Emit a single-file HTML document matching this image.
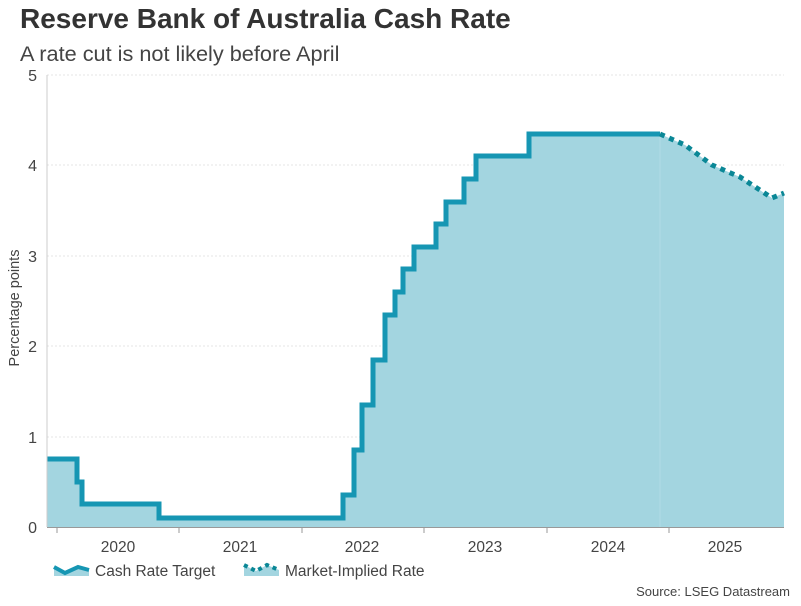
<!DOCTYPE html>
<html><head><meta charset="utf-8"><style>
body{margin:0;background:#fff;width:801px;height:601px;overflow:hidden;font-family:"Liberation Sans",sans-serif;}
</style></head><body>
<svg width="801" height="601" xmlns="http://www.w3.org/2000/svg" font-family="Liberation Sans, sans-serif">
<text x="20" y="28" font-size="28" font-weight="bold" fill="#333">Reserve Bank of Australia Cash Rate</text>
<text x="20" y="61" font-size="21.7" fill="#444">A rate cut is not likely before April</text>
<g stroke="#e6e6e6" stroke-dasharray="2,2" stroke-width="1">
<line x1="47" x2="784" y1="75" y2="75"/><line x1="47" x2="784" y1="165" y2="165"/><line x1="47" x2="784" y1="256" y2="256"/><line x1="47" x2="784" y1="346" y2="346"/><line x1="47" x2="784" y1="437" y2="437"/>
</g>
<g font-size="16" fill="#444" text-anchor="end">
<text x="37" y="81">5</text><text x="37" y="171">4</text><text x="37" y="262">3</text><text x="37" y="352">2</text><text x="37" y="443">1</text><text x="37" y="533">0</text>
</g>
<text transform="translate(19,308) rotate(-90)" font-size="14.5" fill="#444" text-anchor="middle">Percentage points</text>
<path d="M47,459 H77 V482 H82 V504 H159 V518 H343 V495 H354 V450 H362 V405 H373 V360 H385 V315 H395 V292 H403 V269 H414 V247 H436 V224 H446 V202 H464 V179 H476 V156 H529 V134 H660 L685,145 L712,165 L740,177 L772,198 L784,193 V527 H47Z" fill="#a3d5e0"/>
<line x1="660" x2="660" y1="134" y2="527" stroke="#b2dce6" stroke-width="1"/>
<path d="M47,459 H77 V482 H82 V504 H159 V518 H343 V495 H354 V450 H362 V405 H373 V360 H385 V315 H395 V292 H403 V269 H414 V247 H436 V224 H446 V202 H464 V179 H476 V156 H529 V134 H660" fill="none" stroke="#1696b3" stroke-width="5"/>
<path d="M660,134 L685,145 L712,165 L740,177 L772,198 L784,193" fill="none" stroke="#0a8796" stroke-width="5" stroke-dasharray="5,5"/>
<line x1="47" x2="47" y1="75" y2="527" stroke="#ccc"/>
<line x1="47" x2="784" y1="527.5" y2="527.5" stroke="#999"/>
<g stroke="#999"><line x1="57" x2="57" y1="527" y2="533"/><line x1="179" x2="179" y1="527" y2="533"/><line x1="302" x2="302" y1="527" y2="533"/><line x1="424" x2="424" y1="527" y2="533"/><line x1="547" x2="547" y1="527" y2="533"/><line x1="669" x2="669" y1="527" y2="533"/></g>
<g font-size="15.5" fill="#444" text-anchor="middle">
<text x="118" y="552">2020</text><text x="240" y="552">2021</text><text x="362" y="552">2022</text><text x="485" y="552">2023</text><text x="608" y="552">2024</text><text x="725" y="552">2025</text>
</g>
<path d="M54,567 L65,573 L78,567 L89,570 V576 H54Z" fill="#a3d5e0"/>
<path d="M54,567 L65,573 L78,567 L89,570" fill="none" stroke="#1696b3" stroke-width="4"/>
<text x="95" y="576" font-size="15.5" fill="#444">Cash Rate Target</text>
<path d="M244,565 L256,571 L267,565 L279,570 V576 H244Z" fill="#a3d5e0"/>
<path d="M244,565 L256,571 L267,565 L279,570" fill="none" stroke="#0a8796" stroke-width="4" stroke-dasharray="4,4"/>
<text x="285" y="576" font-size="15.5" fill="#444">Market-Implied Rate</text>
<text x="790" y="596" font-size="13" fill="#444" text-anchor="end">Source: LSEG Datastream</text>
</svg>
</body></html>
